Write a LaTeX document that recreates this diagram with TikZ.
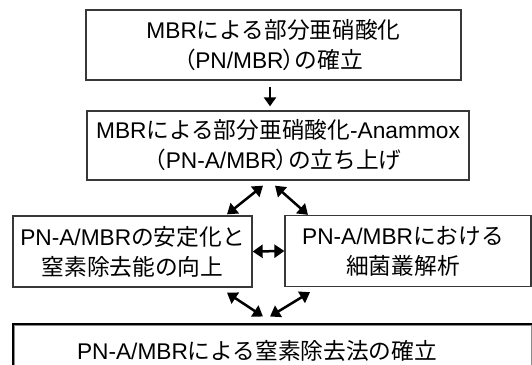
\documentclass[tikz,border=0pt]{standalone}
\usepackage{fontspec}
\setmainfont{Liberation Sans}
\newfontfamily\jp{Noto Sans CJK JP}
\newfontfamily\jpp[RawFeature=+palt]{Noto Sans CJK JP}
\usetikzlibrary{arrows.meta}
\newcommand{\J}[1]{{\jp #1}}
\newcommand{\LP}{{\jpp （}}
\newcommand{\RP}{{\jpp ）}}
\begin{document}
\begin{tikzpicture}[x=1pt,y=-1pt,
 box/.style={draw=black!78, line width=1.3pt, fill=white, inner sep=0pt, align=center},
 txt/.style={inner sep=0pt, align=center, font=\fontsize{22.7}{30}\selectfont},
 arr/.style={line width=2.5pt, {Triangle[length=10pt,width=13pt]}-{Triangle[length=10pt,width=13pt]}},
 darr/.style={line width=2.5pt, -{Triangle[length=9pt,width=12pt]}},
 ]
\useasboundingbox (0,0) rectangle (532,364);
\node[box, txt, minimum width=375pt, minimum height=70pt] (b1) at (273.5,45)
  {MBR\J{による部分亜硝酸化}\\\LP PN/MBR\RP\J{の確立}};
\node[box, txt, minimum width=382pt, minimum height=69pt] (b2) at (278,145.5)
  {MBR\J{による部分亜硝酸化}-Anammox\\\LP PN-A/MBR\RP\J{の立ち上げ}};
\node[box, txt, minimum width=239pt, minimum height=71pt] (b3) at (132.5,251.5)
  {PN-A/MBR\J{の安定化と}\\\J{窒素除去能の向上}};
\node[box, minimum width=246pt, minimum height=71pt] (b4) at (408,251) {};
\node[txt] (t4) at (403,251) {PN-A/MBR\J{における}\\\J{細菌叢解析}};
\node[draw=black, line width=3pt, inner sep=0pt, fill=white, minimum width=530pt, minimum height=80pt] (b5) at (278.5,364.5) {};
\draw[black!45, line width=1.5pt] ([shift={(2.25,2.25)}]b5.north west) rectangle ([shift={(-13,0)}]b5.south east);
\node[txt] (t5) at (257,350.5) {PN-A/MBR\J{による窒素除去法の確立}};
\draw[darr] ([shift={(-3.5,6)}]b1.south) -- ([shift={(-8,-4)}]b2.north);
\draw[arr] ([shift={(-15,5)}]b2.south) -- ([shift={(94.5,-1)}]b3.north);
\draw[arr] ([shift={(-3,5)}]b2.south) -- ([shift={(-100,0)}]b4.north);
\draw[arr] (b3.east) -- (b4.west);
\draw[arr] ([shift={(94.5,5)}]b3.south) -- ([shift={(-15.5,-6.5)}]b5.north);
\draw[arr] ([shift={(-98,5)}]b4.south) -- ([shift={(-8.5,-6.5)}]b5.north);
\end{tikzpicture}
\end{document}
